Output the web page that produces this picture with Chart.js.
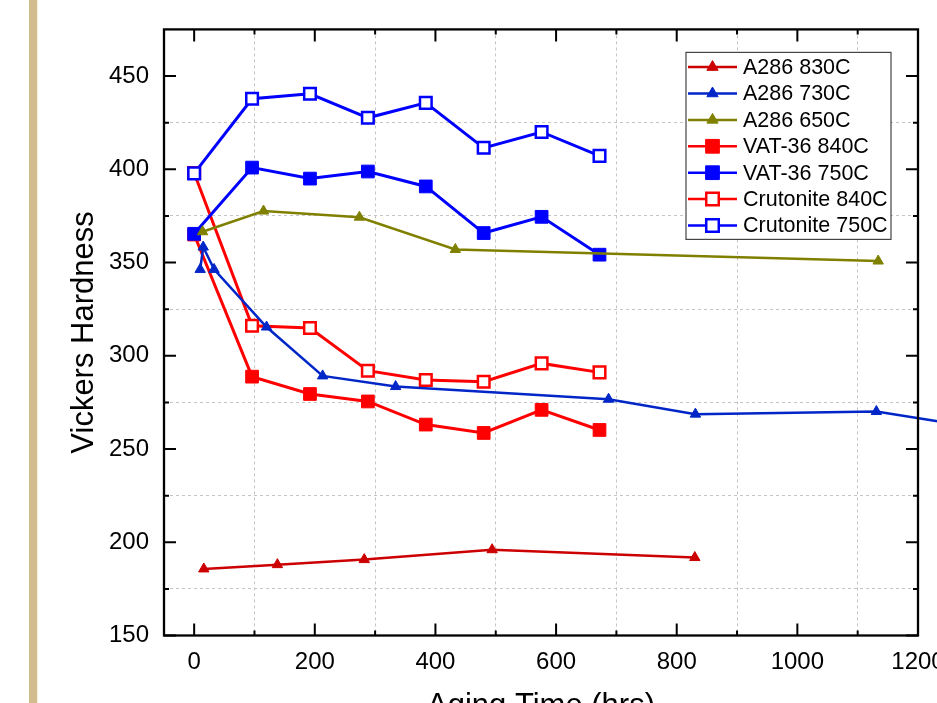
<!DOCTYPE html>
<html>
<head>
<meta charset="utf-8">
<script src="https://cdn.jsdelivr.net/npm/chart.js@4.4.1/dist/chart.umd.min.js"></script>
<style>
  html, body { margin: 0; padding: 0; background: #fff; overflow: hidden; width: 937px; height: 703px; }
  #wrap { position: relative; width: 937px; height: 703px; overflow: hidden; }
  #hardChart { position: absolute; left: 0; top: 0; }
  #bar { position: absolute; left: 29px; top: 0; width: 8px; height: 703px; background: #d2bc8e; border-right: 1px solid #f4eedc; z-index: 2; }
</style>
</head>
<body>
<div id="wrap">
  <canvas id="hardChart" width="1000" height="760"></canvas>
  <div id="bar"></div>
</div>
<script>
const ctx = document.getElementById('hardChart');

// axis ticks (labelled majors)
const xTickValues = [0, 200, 400, 600, 800, 1000, 1200];
const yTickValues = [150, 200, 250, 300, 350, 400, 450];

// A286 series (own time points)
const a286_830_x = [16, 138, 282, 494, 830];
const a286_830_y = [185.7, 188.0, 190.7, 196.0, 191.8];

const a286_730_x = [10, 15, 33, 120, 213, 334, 687, 831, 1131, 1300];
const a286_730_y = [346.3, 358.3, 346.3, 315.4, 289.2, 283.5, 276.7, 268.7, 270.1, 261.4];

const a286_650_x = [14, 115, 274, 433, 1134];
const a286_650_y = [366.5, 377.6, 374.3, 357.0, 350.8];

// VAT-36 and Crutonite share the same aging times
const sampleTimes = [0, 96, 192, 288, 384, 480, 576, 672];
const vat840 = [365.0, 288.8, 279.5, 275.5, 263.1, 258.6, 271.0, 260.2];
const vat750 = [365.4, 400.9, 395.0, 398.8, 390.8, 365.8, 374.5, 354.2];
const crut840 = [398.0, 316.1, 314.9, 292.0, 287.0, 286.1, 295.9, 291.1];
const crut750 = [397.8, 437.8, 440.5, 427.6, 435.6, 411.5, 420.0, 407.2];

const FONT = "'Liberation Sans', Arial, sans-serif";

function pts(xs, ys) {
  return xs.map((x, i) => ({ x, y: ys[i] }));
}

function withMinor(major) {
  const out = [];
  major.forEach((v, i) => {
    out.push(v);
    if (i < major.length - 1) out.push((v + major[i + 1]) / 2);
  });
  return out;
}

function triSeries(label, xs, ys, color, order, clip) {
  return {
    label,
    data: pts(xs, ys),
    showLine: true,
    borderColor: color,
    backgroundColor: color,
    borderWidth: 2.5,
    pointStyle: 'triangle',
    pointRadius: 6,
    pointBorderWidth: 1,
    pointBackgroundColor: color,
    pointBorderColor: color,
    order,
    clip
  };
}

function squareSeries(label, ys, color, filled, order) {
  return {
    label,
    data: pts(sampleTimes, ys),
    showLine: true,
    borderColor: color,
    backgroundColor: color,
    borderWidth: 3,
    pointStyle: 'rect',
    pointRadius: filled ? 9 : 8.2,
    pointBorderWidth: filled ? 1 : 2.5,
    pointBackgroundColor: filled ? color : '#ffffff',
    pointBorderColor: color,
    order
  };
}

// inward ticks on all four sides + black frame
const frameTicks = {
  id: 'frameTicks',
  afterDatasetsDraw(chart) {
    const { ctx: g, chartArea: a, scales: { x, y } } = chart;
    g.save();
    g.strokeStyle = '#000';
    g.lineWidth = 2;
    g.beginPath();
    withMinor(xTickValues).forEach(v => {
      const px = x.getPixelForValue(v);
      const len = xTickValues.includes(v) ? 12 : 5;
      g.moveTo(px, a.bottom); g.lineTo(px, a.bottom - len);
      g.moveTo(px, a.top); g.lineTo(px, a.top + len);
    });
    withMinor(yTickValues).forEach(v => {
      const py = y.getPixelForValue(v);
      const len = yTickValues.includes(v) ? 12 : 5;
      g.moveTo(a.left, py); g.lineTo(a.left + len, py);
      g.moveTo(a.right, py); g.lineTo(a.right - len, py);
    });
    g.stroke();
    g.lineWidth = 2.3;
    g.strokeRect(a.left, a.top, a.right - a.left, a.bottom - a.top);
    g.restore();
  }
};

// boxed legend inside the plot, top right
const legendBox = {
  id: 'legendBox',
  afterDraw(chart) {
    const g = chart.ctx;
    const a = chart.chartArea;
    const left = a.right - 232;
    const top = a.top + 23;
    const w = 205, h = 187;
    g.save();
    g.fillStyle = '#fff';
    g.fillRect(left, top, w, h);
    g.strokeStyle = '#444';
    g.lineWidth = 1.2;
    g.strokeRect(left, top, w, h);
    chart.data.datasets.forEach((ds, i) => {
      const cy = top + 14.7 + i * 26.4;
      g.strokeStyle = ds.borderColor;
      g.lineWidth = 2.5;
      g.beginPath();
      g.moveTo(left + 2, cy);
      g.lineTo(left + 51, cy);
      g.stroke();
      g.fillStyle = ds.pointBackgroundColor;
      g.strokeStyle = ds.pointBorderColor;
      g.lineWidth = ds.pointBorderWidth;
      Chart.helpers.drawPoint(g, {
        pointStyle: ds.pointStyle,
        radius: ds.pointRadius * 1.08,
        rotation: 0,
        borderWidth: ds.pointBorderWidth
      }, left + 26.5, cy);
      g.fillStyle = '#000';
      g.font = '21.5px ' + FONT;
      g.textAlign = 'left';
      g.textBaseline = 'middle';
      g.fillText(ds.label, left + 57, cy + 1);
    });
    g.restore();
  }
};

new Chart(ctx, {
  type: 'scatter',
  data: {
    datasets: [
      triSeries('A286 830C', a286_830_x, a286_830_y, '#cc0000', 0),
      triSeries('A286 730C', a286_730_x, a286_730_y, '#0026c8', 1, false),
      triSeries('A286 650C', a286_650_x, a286_650_y, '#808000', 2),
      squareSeries('VAT-36 840C', vat840, '#ff0000', true, 4),
      squareSeries('VAT-36 750C', vat750, '#0000ff', true, 3),
      squareSeries('Crutonite 840C', crut840, '#ff0000', false, 6),
      squareSeries('Crutonite 750C', crut750, '#0000ff', false, 5)
    ]
  },
  options: {
    responsive: false,
    animation: false,
    layout: {
      padding: { top: 29, right: 82, bottom: 0, left: 0 }
    },
    plugins: {
      legend: { display: false },
      tooltip: { enabled: false }
    },
    scales: {
      x: {
        type: 'linear',
        min: -50,
        max: 1200,
        afterBuildTicks: scale => {
          scale.ticks = withMinor(xTickValues).map(v => ({ value: v }));
        },
        afterFit: scale => { scale.height = 124.5; },
        ticks: {
          autoSkip: false,
          maxRotation: 0,
          padding: 12,
          color: '#000',
          font: { family: FONT, size: 24 },
          callback: v => xTickValues.includes(v) ? String(v) : ''
        },
        grid: {
          drawTicks: false,
          lineWidth: 1,
          color: c => (c.tick && !xTickValues.includes(c.tick.value)) ? '#c4c4c4' : 'rgba(0,0,0,0)'
        },
        border: { display: false, dash: [3, 3] },
        title: {
          display: true,
          text: 'Aging Time (hrs)',
          color: '#000',
          font: { family: FONT, size: 31 },
          padding: { top: 0, bottom: 35 }
        }
      },
      y: {
        min: 150,
        max: 475,
        afterBuildTicks: scale => {
          scale.ticks = withMinor(yTickValues).map(v => ({ value: v }));
        },
        afterFit: scale => { scale.width = 164; },
        ticks: {
          autoSkip: false,
          padding: 15,
          color: '#000',
          font: { family: FONT, size: 24 },
          callback: v => yTickValues.includes(v) ? String(v) : ''
        },
        grid: {
          drawTicks: false,
          lineWidth: 1,
          color: c => (c.tick && !yTickValues.includes(c.tick.value)) ? '#c4c4c4' : 'rgba(0,0,0,0)'
        },
        border: { display: false, dash: [3, 3] },
        title: {
          display: true,
          text: 'Vickers Hardness',
          color: '#000',
          font: { family: FONT, size: 31 },
          padding: { top: 66, bottom: 0 }
        }
      }
    }
  },
  plugins: [frameTicks, legendBox]
});
</script>
</body>
</html>
